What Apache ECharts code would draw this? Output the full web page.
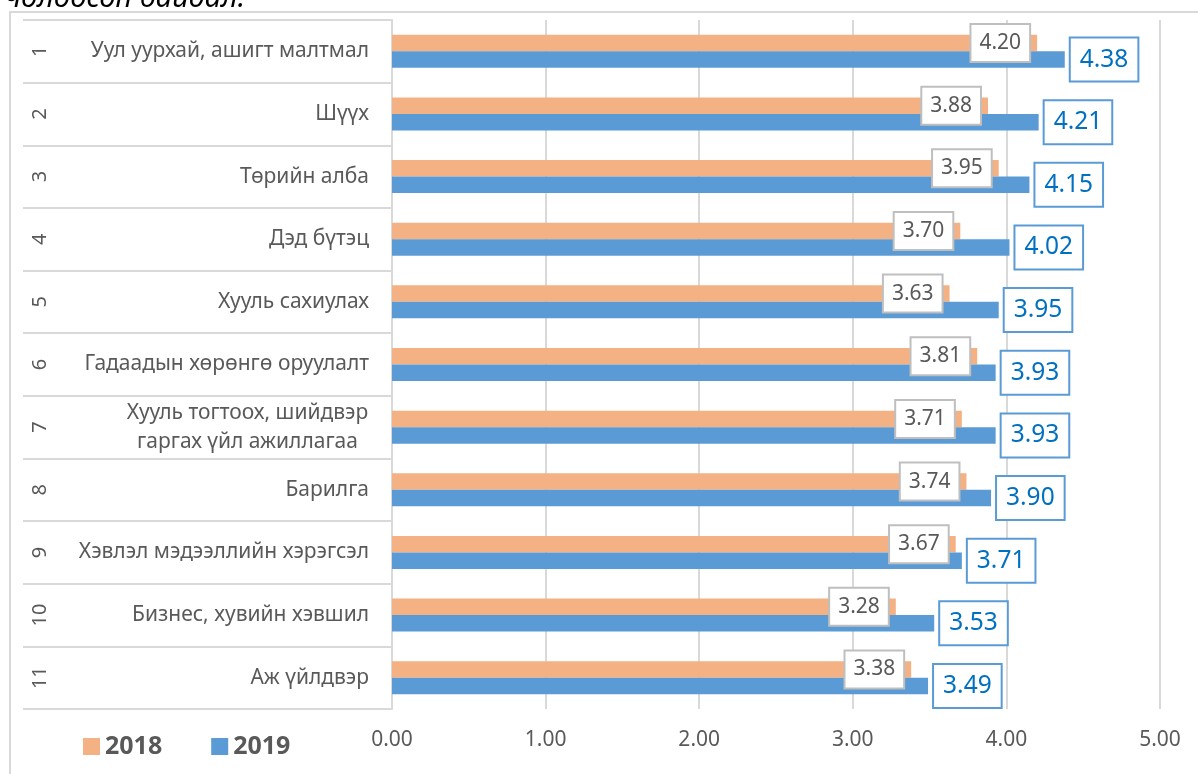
<!DOCTYPE html>
<html>
<head>
<meta charset="utf-8">
<script src="https://cdn.jsdelivr.net/npm/echarts@6/dist/echarts.min.js"></script>
<style>
html,body{margin:0;padding:0;background:#fff;}
#chart{width:1198px;height:774px;}
</style>
</head>
<body>
<div id="chart"></div>
<script>
const rowNumbers = ['1','2','3','4','5','6','7','8','9','10','11'];
const categories = [
  'Уул уурхай, ашигт малтмал',
  'Шүүх',
  'Төрийн алба',
  'Дэд бүтэц',
  'Хууль сахиулах',
  'Гадаадын хөрөнгө оруулалт',
  'Хууль тогтоох, шийдвэр\nгаргах үйл ажиллагаа',
  'Барилга',
  'Хэвлэл мэдээллийн хэрэгсэл',
  'Бизнес, хувийн хэвшил',
  'Аж үйлдвэр'
];
const values2018 = [4.20, 3.88, 3.95, 3.70, 3.63, 3.81, 3.71, 3.74, 3.67, 3.28, 3.38];
const values2019 = [4.38, 4.21, 4.15, 4.02, 3.95, 3.93, 3.93, 3.90, 3.71, 3.53, 3.49];
const seriesNames = ['2018', '2019'];
const xTicks = {min: 0, max: 5, interval: 1};
const headerText = 'чөлөөсөн байдал.';

const FONT = '"Noto Sans", "Open Sans", sans-serif';
const GRAY = '#595959';
const LINE = '#d9d9d9';

const chart = echarts.init(document.getElementById('chart'), null, {renderer: 'canvas'});

const option = {
  backgroundColor: '#ffffff',
  animation: false,
  textStyle: {fontFamily: FONT},
  graphic: [
    {
      type: 'rect', silent: true, z: -10,
      shape: {x: 10, y: 12, width: 1300, height: 900},
      style: {fill: 'none', stroke: LINE, lineWidth: 2}
    },
    {
      type: 'text', silent: true, x: 5, y: -1,
      style: {
        text: headerText, fontFamily: FONT, fontSize: 29, fontStyle: 'italic',
        fill: '#000000', verticalAlign: 'middle', align: 'left'
      }
    }
  ],
  legend: {
    left: 83, top: 734, padding: 0,
    icon: 'rect', itemWidth: 17, itemHeight: 17, itemGap: 49,
    textStyle: {fontFamily: FONT, fontSize: 25, fontWeight: 'bold', color: GRAY},
    data: seriesNames
  },
  grid: {left: 392, right: 38, top: 20, bottom: 65, containLabel: false},
  xAxis: {
    type: 'value', min: xTicks.min, max: xTicks.max, interval: xTicks.interval,
    axisLine: {show: false}, axisTick: {show: false},
    splitLine: {show: true, lineStyle: {color: LINE, width: 2}},
    axisLabel: {
      margin: 21, fontFamily: FONT, fontSize: 21, color: GRAY,
      formatter: v => v.toFixed(2)
    }
  },
  yAxis: [
    {
      type: 'category', data: categories, inverse: true, position: 'left',
      axisLine: {show: true, lineStyle: {color: LINE, width: 2}},
      axisTick: {show: true, length: 369, lineStyle: {color: LINE, width: 2}},
      splitLine: {show: false},
      axisLabel: {
        margin: 23, fontFamily: FONT, fontSize: 21, color: GRAY, lineHeight: 29,
        formatter: function (v) {
          if (v.indexOf('\n') >= 0) {
            return v.split('\n').map(s => '{c|' + s + '}').join('\n');
          }
          return v;
        },
        rich: {
          c: {width: 243, align: 'center', fontFamily: FONT, fontSize: 21, color: GRAY, lineHeight: 29}
        }
      }
    },
    {
      type: 'category', data: rowNumbers, inverse: true, position: 'left', offset: 342,
      axisLine: {show: false}, axisTick: {show: false}, splitLine: {show: false},
      axisLabel: {margin: 0, rotate: 90, fontFamily: FONT, fontSize: 20, color: GRAY}
    }
  ],
  series: [
    {
      name: seriesNames[0], type: 'bar', data: values2018, yAxisIndex: 0,
      barWidth: 16.5, barGap: '0%',
      itemStyle: {color: '#f4b183'},
      label: {
        show: true, position: 'insideRight', distance: 8,
        formatter: p => p.value.toFixed(2),
        fontFamily: FONT, fontSize: 21, color: GRAY, lineHeight: 26,
        backgroundColor: '#ffffff', borderColor: '#bfbfbf', borderWidth: 2,
        padding: [5, 8]
      }
    },
    {
      name: seriesNames[1], type: 'bar', data: values2019, yAxisIndex: 0,
      barWidth: 16.5, barGap: '0%',
      itemStyle: {color: '#5b9bd5'},
      label: {
        show: true, position: 'right', distance: 6,
        formatter: p => p.value.toFixed(2),
        fontFamily: FONT, fontSize: 24.5, color: '#0070c0', lineHeight: 30,
        backgroundColor: '#ffffff', borderColor: '#5b9bd5', borderWidth: 2,
        padding: [6, 9]
      }
    }
  ]
};
chart.setOption(option);
</script>
</body>
</html>
